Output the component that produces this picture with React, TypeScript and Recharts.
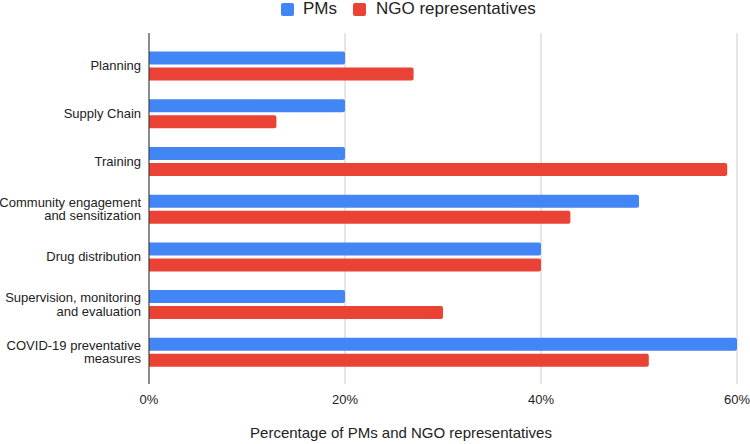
import React from "react";
import { BarChart, Bar, XAxis, YAxis, CartesianGrid, Legend } from "recharts";

const categories = [
  "Planning",
  "Supply Chain",
  "Training",
  "Community engagement and sensitization",
  "Drug distribution",
  "Supervision, monitoring and evaluation",
  "COVID-19 preventative measures",
];

const tickLines: Record<string, string[]> = {
  "Planning": ["Planning"],
  "Supply Chain": ["Supply Chain"],
  "Training": ["Training"],
  "Community engagement and sensitization": ["Community engagement", "and sensitization"],
  "Drug distribution": ["Drug distribution"],
  "Supervision, monitoring and evaluation": ["Supervision, monitoring", "and evaluation"],
  "COVID-19 preventative measures": ["COVID-19 preventative", "measures"],
};

const pmValues = [20, 20, 20, 50, 40, 20, 60];
const ngoValues = [27, 13, 59, 43, 40, 30, 51];

const xTicks = [0, 20, 40, 60];

const seriesNames = { pm: "PMs", ngo: "NGO representatives" };
const axisTitle = "Percentage of PMs and NGO representatives";

const BLUE = "#4285F4";
const RED = "#EA4335";
const FONT = "'Liberation Sans', Arial, sans-serif";

const data = categories.map((c, i) => ({ name: c, pm: pmValues[i], ngo: ngoValues[i] }));

const YTick = (props: any) => {
  const { x, y, payload } = props;
  const lines = tickLines[payload.value] || [String(payload.value)];
  const lh = 13.5;
  const n = lines.length;
  return (
    <text x={x} y={y} textAnchor="end" fontSize={13} fill="#222" fontFamily={FONT}>
      {lines.map((l, i) => (
        <tspan key={i} x={x} y={y + (i - (n - 1) / 2) * lh + 4.6}>
          {l}
        </tspan>
      ))}
    </text>
  );
};

const LegendContent = () => (
  <div
    style={{
      height: 33,
      fontFamily: FONT,
      fontSize: 17,
      color: "#222",
      position: "relative",
    }}
  >
    <div style={{ display: "flex", alignItems: "center", height: 18, paddingLeft: 281 }}>
      <span style={{ width: 13, height: 13, background: BLUE, borderRadius: 2, marginRight: 9, display: "inline-block" }} />
      <span style={{ marginRight: 16 }}>{seriesNames.pm}</span>
      <span style={{ width: 13, height: 13, background: RED, borderRadius: 2, marginRight: 10, display: "inline-block" }} />
      <span>{seriesNames.ngo}</span>
    </div>
  </div>
);

export default function App() {
  return (
    <div style={{ position: "absolute", left: 0, top: 0, width: 750, height: 444, background: "#fff" }}>
      <BarChart
        width={750}
        height={444}
        data={data}
        layout="vertical"
        margin={{ top: 0, right: 13, bottom: 0, left: 0 }}
        barCategoryGap="20%"
        barGap={3}
      >
        <Legend verticalAlign="top" align="left" content={<LegendContent />} />
        <CartesianGrid horizontal={false} vertical={true} stroke="#cccccc" />
        <XAxis
          type="number"
          domain={[0, 60]}
          ticks={xTicks}
          tickFormatter={(v: number) => `${v}%`}
          axisLine={false}
          tickLine={false}
          tickSize={0}
          tickMargin={11}
          height={60}
          tick={{ fontSize: 13, fill: "#222", fontFamily: FONT }}
          label={{
            content: (p: any) => {
              const vb = p.viewBox || { x: 149, y: 384, width: 588 };
              return (
                <text
                  x={vb.x + vb.width / 2 - 42}
                  y={vb.y + 54}
                  textAnchor="middle"
                  fontSize={15}
                  fill="#222"
                  fontFamily={FONT}
                >
                  {axisTitle}
                </text>
              );
            },
          }}
        />
        <YAxis
          type="category"
          dataKey="name"
          width={149}
          axisLine={{ stroke: "#333", strokeWidth: 1 }}
          tickLine={false}
          tickSize={0}
          tickMargin={8}
          padding={{ top: 9, bottom: 8 }}
          interval={0}
          tick={<YTick />}
        />
        <Bar dataKey="pm" name={seriesNames.pm} fill={BLUE} radius={[0, 2, 2, 0]} isAnimationActive={false} />
        <Bar dataKey="ngo" name={seriesNames.ngo} fill={RED} radius={[0, 2, 2, 0]} isAnimationActive={false} />
      </BarChart>
    </div>
  );
}
